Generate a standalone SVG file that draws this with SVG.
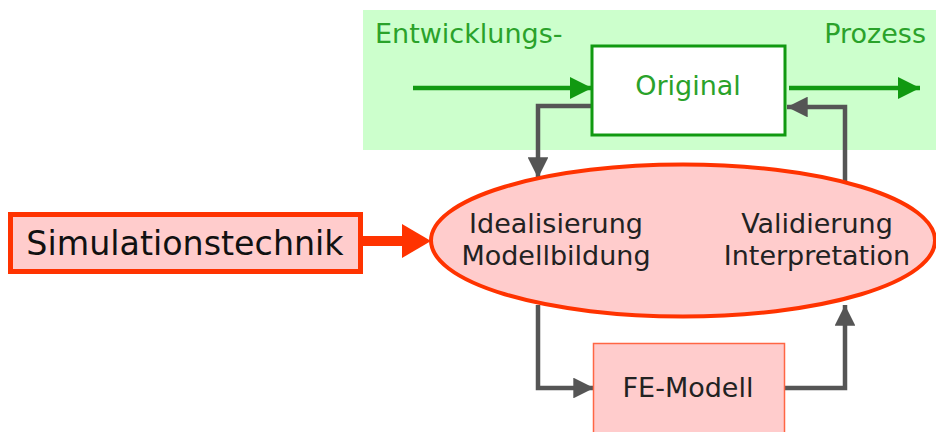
<svg xmlns="http://www.w3.org/2000/svg" width="936" height="432" viewBox="0 0 936 432">
  <style>
    text { font-family: "DejaVu Sans", Verdana, sans-serif; font-size: 27px; }
    .green { fill: #2aa22a; }
    .dark { fill: #222222; }
    .conn { fill: none; stroke: #555555; stroke-width: 4.5; }
    .flow { fill: none; stroke: #119911; stroke-width: 4.5; }
  </style>
  <defs>
    <marker id="grayHead" viewBox="0 0 10 10" refX="10" refY="5" markerWidth="4.6" markerHeight="4.6" markerUnits="strokeWidth" orient="auto">
      <path d="M0,0 L10,5 L0,10 Z" fill="#555555"/>
    </marker>
    <marker id="greenHead" viewBox="0 0 10 10" refX="10" refY="5" markerWidth="5" markerHeight="5" markerUnits="strokeWidth" orient="auto">
      <path d="M0,0 L10,5 L0,10 Z" fill="#119911"/>
    </marker>
  </defs>

  <!-- development process band -->
  <g id="process">
    <rect x="363" y="10" width="573" height="140" fill="#ccffcc"/>
    <text class="green" x="375" y="43">Entwicklungs-</text>
    <text class="green" x="926" y="43" text-anchor="end">Prozess</text>
  </g>

  <g id="connectors">
    <!-- process flow through the original -->
    <path class="flow" d="M413,88 H592" marker-end="url(#greenHead)"/>
    <path class="flow" d="M789,88 H920" marker-end="url(#greenHead)"/>
    <!-- simulation feeds the modelling cycle -->
    <path d="M362,241 H404" fill="none" stroke="#ff3300" stroke-width="10"/>
    <path d="M402,224 L431,241 L402,258 Z" fill="#ff3300"/>
    <!-- cycle: original -> idealisation -> FE model -> validation -> original -->
    <path class="conn" d="M592,106 H538 V178" marker-end="url(#grayHead)"/>
    <path class="conn" d="M538,305 V388 H594" marker-end="url(#grayHead)"/>
    <path class="conn" d="M785,388 H845 V305" marker-end="url(#grayHead)"/>
    <path class="conn" d="M845,182 V107 H787" marker-end="url(#grayHead)"/>
  </g>

  <g id="original">
    <rect x="592" y="46" width="193" height="89" fill="#ffffff" stroke="#119911" stroke-width="3"/>
    <text class="green" x="688" y="95" text-anchor="middle">Original</text>
  </g>

  <g id="simulationstechnik">
    <rect x="10.5" y="214.5" width="350" height="57" fill="#ffcccc" stroke="#ff3300" stroke-width="5"/>
    <text x="185" y="255" text-anchor="middle" style="font-size:33.3px" fill="#111111">Simulationstechnik</text>
  </g>

  <g id="modelling">
    <ellipse cx="683" cy="240.5" rx="252" ry="76" fill="#ffcccc" stroke="#ff3300" stroke-width="4"/>
    <text class="dark" x="556" y="233" text-anchor="middle">Idealisierung</text>
    <text class="dark" x="556" y="265" text-anchor="middle">Modellbildung</text>
    <text class="dark" x="817" y="233" text-anchor="middle">Validierung</text>
    <text class="dark" x="817" y="265" text-anchor="middle">Interpretation</text>
  </g>

  <g id="fe-modell">
    <rect x="593.5" y="343.5" width="191" height="100" fill="#ffcccc" stroke="#ff6644" stroke-width="1.5"/>
    <text class="dark" x="688" y="397" text-anchor="middle">FE-Modell</text>
  </g>
</svg>
